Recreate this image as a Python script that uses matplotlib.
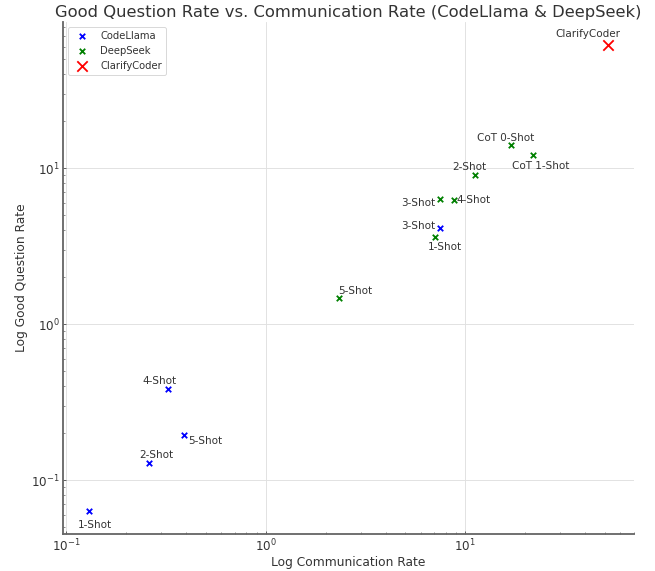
import numpy as np
import matplotlib
matplotlib.use("Agg")
import matplotlib.pyplot as plt

# values
cl_labels = ["1-Shot", "2-Shot", "3-Shot", "4-Shot", "5-Shot"]
cl_comm = [0.130, 0.259, 7.44, 0.324, 0.388]
cl_good = [0.0635, 0.1286, 4.10, 0.385, 0.193]

ds_labels = ["1-Shot", "2-Shot", "3-Shot", "4-Shot", "5-Shot", "CoT 0-Shot", "CoT 1-Shot"]
ds_comm = [7.03, 11.15, 7.44, 8.75, 2.34, 17.08, 21.87]
ds_good = [3.615, 9.06, 6.32, 6.20, 1.463, 14.0, 12.18]

cc_labels = ["ClarifyCoder"]
cc_comm = [52.1]
cc_good = [61.5]

# label offsets in points
cl_offsets = [(7, -15.5), (8, 8.5), (-23, 2.5), (-9, 8.5), (24, -5.5)]
ds_offsets = [(11, -10.5), (-6, 8.5), (-23, -4.5), (22, 0.5), (17, 8.5), (-6, 8.5), (9, -12.5)]
cc_offsets = [(-22, 12.5)]

txt = "#333333"
plt.rcParams["text.color"] = txt
plt.rcParams["axes.labelcolor"] = txt
plt.rcParams["xtick.color"] = txt
plt.rcParams["ytick.color"] = txt

fig = plt.figure(figsize=(10, 8.72), dpi=65.5)
ax = fig.add_axes([0.0962, 0.0648, 0.8718, 0.8967])

ax.scatter(cl_comm, cl_good, marker="x", color="blue", s=36, linewidths=2, label="CodeLlama", zorder=3)
ax.scatter(ds_comm, ds_good, marker="x", color="green", s=36, linewidths=2, label="DeepSeek", zorder=3)
ax.scatter(cc_comm, cc_good, marker="x", color="red", s=130, linewidths=2, label="ClarifyCoder", zorder=3)

for xs, ys, labs, offs in [(cl_comm, cl_good, cl_labels, cl_offsets),
                           (ds_comm, ds_good, ds_labels, ds_offsets),
                           (cc_comm, cc_good, cc_labels, cc_offsets)]:
    for x, y, lab, off in zip(xs, ys, labs, offs):
        ax.annotate(lab, (x, y), xytext=off, textcoords="offset points",
                    ha="center", va="center", fontsize=11.4, color=txt)

ax.set_xscale("log")
ax.set_yscale("log")
ax.set_title("Good Question Rate vs. Communication Rate (CodeLlama & DeepSeek)", fontsize=18, color=txt)
ax.set_xlabel("Log Communication Rate", fontsize=13.5, labelpad=2)
ax.set_ylabel("Log Good Question Rate", fontsize=13.5, labelpad=4)
ax.tick_params(which="both", direction="in", labelsize=13)
ax.grid(True, which="major", color="#e0e0e0", linewidth=1)
ax.set_axisbelow(True)
for side in ["top", "right"]:
    ax.spines[side].set_visible(False)
for side in ["left", "bottom"]:
    ax.spines[side].set_color("#666666")
    ax.spines[side].set_linewidth(2)
ax.legend(loc="upper left", fontsize=11)

plt.savefig("out.png", dpi=65.5)
